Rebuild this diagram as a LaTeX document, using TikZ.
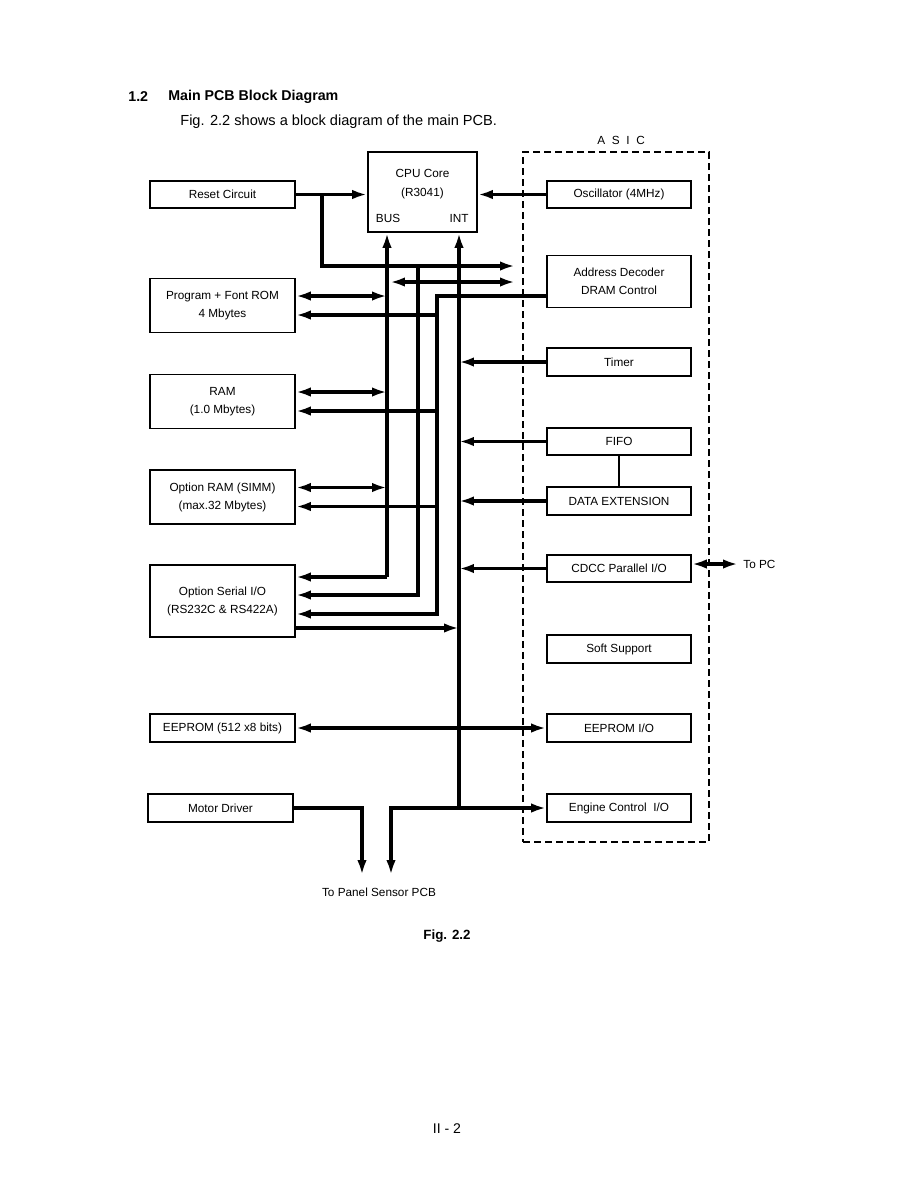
\documentclass[tikz,border=0pt]{standalone}
\usepackage{fontspec}
\setmainfont{Liberation Sans}
\usetikzlibrary{arrows.meta}

\begin{document}
\begin{tikzpicture}[x=0.02cm,y=-0.02cm,
	box/.style={draw,line width=1pt,minimum width=2.9cm,minimum height=0.55cm,inner sep=0pt,align=center,font=\fontsize{6.7}{10.3}\selectfont},
	tall/.style={box,minimum height=1.08cm},
	txt/.style={inner sep=0pt,align=center,font=\fontsize{6.7}{10.3}\selectfont},
	bus/.style={line width=1.9pt},
	arr/.style={bus,-{Latex[length=3mm,width=1.9mm]}},
	darr/.style={bus,{Latex[length=3mm,width=1.9mm]}-{Latex[length=3mm,width=1.9mm]}}]
	\useasboundingbox (0,0) rectangle (918,1188);

	% heading
	\node[txt,anchor=west,font=\fontsize{8.1}{10}\selectfont\bfseries] (num) at (128,97) {1.2};
	\node[txt,anchor=west,font=\fontsize{8.1}{10}\selectfont\bfseries] (title) at (168,97) {Main PCB Block Diagram};
	\node[txt,anchor=west,font=\fontsize{8.3}{10}\selectfont] (intro) at (180,122) {Fig. 2.2 shows a block diagram of the main PCB.};

	% ASIC frame
	\node[draw,line width=1.1pt,dash pattern=on 0.14cm off 0.08cm,minimum width=3.72cm,minimum height=13.8cm,inner sep=0pt] (asic) at (616,497) {};
	\node[txt] (asiclbl) at (621,140) {A\hspace{3.8pt}S\hspace{3.8pt}I\hspace{3.8pt}C};

	% CPU
	\node[box,minimum width=2.18cm,minimum height=1.6cm] (cpu) at (422.5,192) {};
	\node[txt,font=\fontsize{6.7}{10.8}\selectfont] (cpuname) at (422.5,184) {CPU Core\\(R3041)};
	\node[txt] (buslbl) at (388,218) {BUS};
	\node[txt] (intlbl) at (459,218) {INT};

	% left blocks
	\node[box] (reset) at (222.5,194.5) {Reset Circuit};
	\node[tall] (rom) at (222.5,305.5) {Program + Font ROM\\4 Mbytes};
	\node[tall] (ram) at (222.5,401.5) {RAM\\(1.0 Mbytes)};
	\node[tall] (oram) at (222.5,497) {Option RAM (SIMM)\\(max.32 Mbytes)};
	\node[box,minimum height=1.44cm] (serial) at (222.5,601) {Option Serial I/O\\(RS232C \& RS422A)};
	\node[box] (eeprom) at (222.5,728) {EEPROM (512 x8 bits)};
	\node[box] (motor) at (220.5,808) {Motor Driver};

	% ASIC blocks
	\node[box,minimum width=2.88cm] (osc) at (619,194.5) {Oscillator (4MHz)};
	\node[box,minimum width=2.88cm,minimum height=1.04cm] (addr) at (619,281.5) {Address Decoder\\DRAM Control};
	\node[box,minimum width=2.88cm] (timer) at (619,362) {Timer};
	\node[box,minimum width=2.88cm] (fifo) at (619,441.5) {FIFO};
	\node[box,minimum width=2.88cm] (dext) at (619,501) {DATA EXTENSION};
	\node[box,minimum width=2.88cm] (cdcc) at (619,568.5) {CDCC Parallel I/O};
	\node[box,minimum width=2.88cm] (soft) at (619,649) {Soft Support};
	\node[box,minimum width=2.88cm] (eepio) at (619,728) {EEPROM I/O};
	\node[box,minimum width=2.88cm] (engine) at (619,808) {Engine Control\ \ I/O};

	% bus corners
	\coordinate (bus) at (387,577);
	\coordinate (int) at (459,808);
	\coordinate (rs) at (322,266);
	\coordinate (rsend) at (515,266);
	\coordinate (dbl) at (390,282);
	\coordinate (ser2) at (418,595);
	\coordinate (dr) at (437,296);
	\coordinate (ser3) at (437,614);
	\coordinate (pc) at (738,564);
	\coordinate (pnl) at (391,875);
	\coordinate (mot) at (362,875);

	% reset
	\draw[arr] (reset.east) -- (reset.east -| cpu.west);
	\draw[arr] (reset.east -| rs) -- (rs) -- (rsend);
	\draw[arr] (ser2 |- rs) -- (ser2) -- (ser2 -| serial.east);
	\draw[darr] (dbl) -- (dbl -| rsend);
	\draw[arr] (osc.west) -- (osc.west -| cpu.east);

	% BUS
	\draw[arr] (bus) -- (bus |- cpu.south);
	\draw[arr] (bus) -- (bus -| serial.east);
	\draw[arr] (dr -| addr.west) -- (dr) -- (ser3) -- (ser3 -| serial.east);
	\foreach \b in {rom,ram,oram}{
		\draw[darr] ([yshift=1.9mm]\b.east) -- ([yshift=1.9mm]\b.east -| bus);
		\draw[arr] ([yshift=-1.9mm]\b.east -| dr) -- ([yshift=-1.9mm]\b.east);
	}

	% INT
	\draw[arr] (int) -- (int |- cpu.south);
	\foreach \b in {timer,fifo,dext,cdcc}
		\draw[arr] (\b.west) -- (\b.west -| int);
	\draw[arr] ([yshift=-5.4mm]serial.east) -- ([yshift=-5.4mm]serial.east -| int);
	\draw[arr] (int) -- (engine.west);
	\draw[arr] (int) -- (int -| pnl) -- (pnl);
	\draw[arr] (motor.east) -- (motor.east -| mot) -- (mot);

	\draw[darr] (eeprom.east) -- (eepio.west);
	\draw[line width=0.7pt] (fifo) -- (dext);
	\draw[darr] (pc -| cdcc.east) -- (pc);
	\node[txt,anchor=west] (topc) at (743,564) {To PC};

	% captions
	\node[txt] (panel) at (379,892) {To Panel Sensor PCB};
	\node[txt,font=\fontsize{7.6}{10}\selectfont\bfseries] (fig) at (447,936) {Fig. 2.2};
	\node[txt,font=\fontsize{8}{10}\selectfont] (page) at (447,1129) {II - 2};
\end{tikzpicture}
\end{document}
